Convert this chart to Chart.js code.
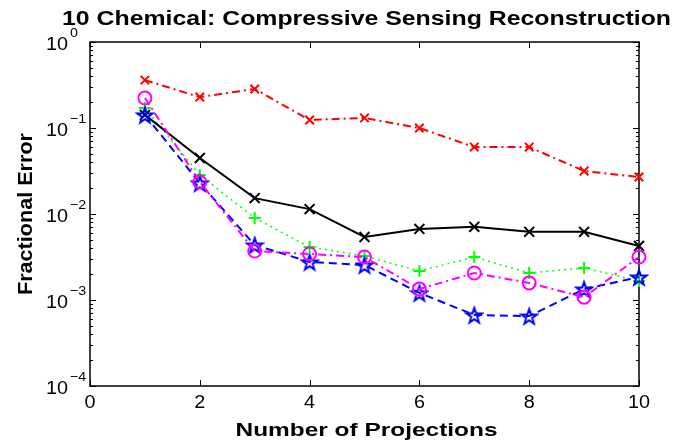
<!DOCTYPE html>
<html>
<head>
<meta charset="utf-8">
<script src="https://cdn.jsdelivr.net/npm/chart.js@4.4.0/dist/chart.umd.min.js"></script>
<style>
  html, body { margin: 0; padding: 0; background: #fff; }
  #wrap { width: 687px; height: 444px; }
</style>
</head>
<body>
<div id="wrap"><canvas id="errChart" width="687" height="444"></canvas></div>
<script>
// data
const projections = [1, 2, 3, 4, 5, 6, 7, 8, 9, 10];
const errRedX      = [0.36, 0.229, 0.284, 0.124, 0.131, 0.100, 0.060, 0.060, 0.0316, 0.0269];
const errBlackX    = [0.142, 0.0448, 0.0153, 0.0114, 0.0054, 0.0067, 0.0071, 0.0062, 0.0062, 0.00425];
const errGreenPlus = [0.171, 0.0284, 0.0090, 0.00413, 0.00325, 0.00217, 0.00316, 0.00206, 0.00236, 0.00166];
const errMagentaO  = [0.223, 0.0236, 0.00371, 0.00343, 0.00316, 0.00134, 0.00206, 0.00158, 0.00108, 0.00316];
const errBlueStar  = [0.142, 0.0229, 0.00436, 0.00277, 0.00255, 0.00121, 0.00067, 0.00065, 0.00134, 0.00185];

const xTicks = [0, 2, 4, 6, 8, 10];
const yExponents = [0, -1, -2, -3, -4];

const titleText = '10 Chemical: Compressive Sensing Reconstruction';
const xLabelText = 'Number of Projections';
const yLabelText = 'Fractional Error';

const FONT = '"Liberation Sans", Arial, Helvetica, sans-serif';

function pentagram(color, r) {
    const c = document.createElement('canvas');
    const s = Math.ceil(2 * r + 4);
    c.width = s; c.height = s;
    const g = c.getContext('2d');
    g.beginPath();
    for (let i = 0; i < 10; i++) {
        const a = -Math.PI / 2 + i * Math.PI / 5;
        const rr = i % 2 ? r * 0.4 : r;
        const px = s / 2 + rr * Math.cos(a);
        const py = s / 2 + 1 + rr * Math.sin(a);
        if (i === 0) g.moveTo(px, py); else g.lineTo(px, py);
    }
    g.closePath();
    g.strokeStyle = color;
    g.lineWidth = 2;
    g.lineJoin = 'miter';
    g.stroke();
    return c;
}

function series(data, color, style, radius, dash, width) {
    return {
        data: projections.map((x, i) => ({ x: x, y: data[i] })),
        borderColor: color,
        borderWidth: width,
        borderDash: dash,
        pointStyle: style,
        pointRadius: radius,
        pointHoverRadius: radius,
        pointBorderColor: color,
        pointBackgroundColor: 'rgba(0,0,0,0)',
        pointBorderWidth: 2,
        tension: 0,
        fill: false,
        clip: false
    };
}

// horizontally stretched text, fitted to a given width
function drawText(ctx, text, x, y, font, align, sx) {
    ctx.save();
    ctx.font = font;
    ctx.textBaseline = 'alphabetic';
    ctx.textAlign = 'left';
    const w = ctx.measureText(text).width * sx;
    let left = x;
    if (align === 'center') left = x - w / 2;
    if (align === 'right') left = x - w;
    ctx.translate(left, y);
    ctx.scale(sx, 1);
    ctx.fillText(text, 0, 0);
    ctx.restore();
    return w;
}

function fitScale(ctx, text, font, width) {
    ctx.save();
    ctx.font = font;
    const w = ctx.measureText(text).width;
    ctx.restore();
    return width / w;
}

const matlabAxes = {
    id: 'matlabAxes',
    beforeDatasetsDraw(chart) {
        const ctx = chart.ctx;
        const a = chart.chartArea;
        const xs = chart.scales.x, ys = chart.scales.y;
        ctx.save();
        ctx.strokeStyle = '#000';
        ctx.lineWidth = 1.5;
        ctx.strokeRect(a.left, a.top, a.right - a.left, a.bottom - a.top);
        ctx.lineWidth = 1;
        ctx.beginPath();
        xTicks.forEach(v => {
            const px = Math.round(xs.getPixelForValue(v)) + 0.5;
            ctx.moveTo(px, a.bottom); ctx.lineTo(px, a.bottom - 6);
            ctx.moveTo(px, a.top); ctx.lineTo(px, a.top + 6);
        });
        yExponents.forEach(e => {
            const py = Math.round(ys.getPixelForValue(Math.pow(10, e))) + 0.5;
            ctx.moveTo(a.left, py); ctx.lineTo(a.left + 6, py);
            ctx.moveTo(a.right, py); ctx.lineTo(a.right - 6, py);
            if (e > -4) {
                for (let m = 2; m <= 9; m++) {
                    const pm = Math.round(ys.getPixelForValue(m * Math.pow(10, e - 1))) + 0.5;
                    ctx.moveTo(a.left, pm); ctx.lineTo(a.left + 3, pm);
                    ctx.moveTo(a.right, pm); ctx.lineTo(a.right - 3, pm);
                }
            }
        });
        ctx.stroke();
        ctx.restore();
    },
    afterDraw(chart) {
        const ctx = chart.ctx;
        const a = chart.chartArea;
        const xs = chart.scales.x, ys = chart.scales.y;
        ctx.save();
        ctx.fillStyle = '#000';

        const tickFont = '18px ' + FONT;
        xTicks.forEach(v => {
            drawText(ctx, String(v), xs.getPixelForValue(v), a.bottom + 22, tickFont, 'center', 1.1);
        });

        const expFont = '13px ' + FONT;
        yExponents.forEach(e => {
            const py = ys.getPixelForValue(Math.pow(10, e));
            const w = drawText(ctx, '10', a.left - 44, py + 8, tickFont, 'left', 1.1);
            const ex = e === 0 ? '0' : '\u2212' + String(-e);
            drawText(ctx, ex, a.left - 44 + w + 2, py - 5, expFont, 'left', 1.1);
        });

        const titleFont = 'bold 20px ' + FONT;
        const cx = (a.left + a.right) / 2 + 2;
        drawText(ctx, titleText, cx, 25, titleFont, 'center', fitScale(ctx, titleText, titleFont, 609));

        const labFont = 'bold 19px ' + FONT;
        drawText(ctx, xLabelText, cx, 436, labFont, 'center', fitScale(ctx, xLabelText, labFont, 262));

        ctx.translate(32, (a.top + a.bottom) / 2);
        ctx.rotate(-Math.PI / 2);
        drawText(ctx, yLabelText, 0, 0, 'bold 20px ' + FONT, 'center', fitScale(ctx, yLabelText, 'bold 20px ' + FONT, 162));
        ctx.restore();
    }
};

new Chart(document.getElementById('errChart'), {
    type: 'line',
    data: {
        datasets: [
            series(errMagentaO, '#ff00ff', 'circle', 6.5, [8, 4, 2, 4], 2),
            series(errBlueStar, '#0000ff', pentagram('#0000ff', 8), 8, [8, 5], 2),
            series(errBlackX, '#000000', 'crossRot', 7, [], 2),
            series(errGreenPlus, '#00ff00', 'cross', 6, [2, 4], 1.5),
            series(errRedX, '#ff0000', 'crossRot', 6, [8, 4, 2, 4], 2)
        ]
    },
    options: {
        responsive: false,
        animation: false,
        layout: { padding: { left: 90, right: 48, top: 42, bottom: 58 } },
        plugins: {
            legend: { display: false },
            title: { display: false },
            tooltip: { enabled: false }
        },
        scales: {
            x: { type: 'linear', min: 0, max: 10, display: false },
            y: { type: 'logarithmic', min: 1e-4, max: 1, display: false }
        }
    },
    plugins: [matlabAxes]
});
</script>
</body>
</html>
